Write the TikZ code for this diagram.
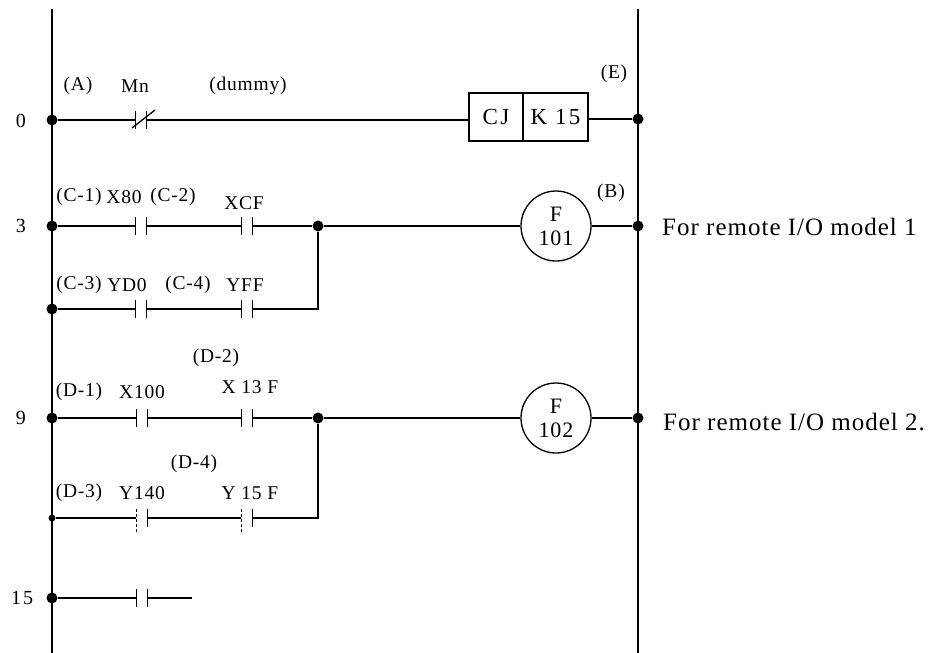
\documentclass[tikz,border=0pt]{standalone}
\usepackage{fontspec}
\setmainfont{Liberation Serif}
\usetikzlibrary{calc}
\tikzset{
  wire/.style={line width=1.3pt},
  rail/.style={line width=1.3pt},
  dot/.style={circle,fill,inner sep=0pt,minimum size=11pt},
  sdot/.style={circle,fill,inner sep=0pt,minimum size=7pt},
  contact/.style={rectangle,inner sep=0pt,minimum width=11pt,minimum height=17pt},
  lbl/.style={inner sep=0pt,font=\fontsize{19.5}{21}\selectfont\addfontfeature{LetterSpace=4}},
  num/.style={inner sep=0pt,font=\fontsize{20}{22}\selectfont\addfontfeature{LetterSpace=10}},
  side/.style={inner sep=0pt,anchor=west,font=\fontsize{25}{27}\selectfont\addfontfeature{LetterSpace=4}},
  coil/.style={circle,draw,line width=1.3pt,inner sep=0pt,minimum size=70pt,align=center,font=\fontsize{22}{24}\selectfont\addfontfeature{LetterSpace=4}},
  cell/.style={rectangle,draw,line width=1.3pt,inner sep=0pt,minimum height=48pt,font=\fontsize{23}{25}\selectfont\addfontfeature{LetterSpace=10}}
}
\newcommand{\nobars}[1]{\draw[wire] (#1.north west) -- (#1.south west) (#1.north east) -- (#1.south east);}
\newcommand{\dotbars}[1]{\draw[wire,dash pattern=on 3pt off 2pt] (#1.north west) -- ($(#1.south west)+(0,6)$); \draw[wire] (#1.north east) -- (#1.south east);}
\begin{document}
\begin{tikzpicture}[x=1pt,y=-1pt]
\useasboundingbox (0,0) rectangle (935,653);
% rails
\coordinate (lt) at (52,9); \coordinate (lb) at (52,653);
\coordinate (rt) at (638,9); \coordinate (rb) at (638,653);
\draw[rail] (lt) -- (lb);
\draw[rail] (rt) -- (rb);
% row numbers
\node[num] (n0) at (21,121) {0};
\node[num] (n3) at (21,226) {3};
\node[num] (n9) at (21,418) {9};
\node[num] (n15) at (22,598) {15};
% ---------- row 0
\node[dot] (d0) at (52,120) {};
\node[contact] (mn) at (141,120) {};
\node[cell,minimum width=54pt] (cj) at (496,117) {CJ};
\node[cell,minimum width=65pt] (k15) at (555.5,117) {K 15};
\node[dot] (r0) at (638,119) {};
\draw[wire] (d0) -- (mn) -- (cj.west |- mn);
\draw[wire] (k15.east |- r0) -- (r0);
\nobars{mn}
\draw[wire] ($(mn)+(-9,8)$) -- ($(mn)+(14,-10)$);
\node[lbl] (la) at (78,86) {(A)};
\node[lbl] (lmn) at (135,86) {Mn};
\node[lbl] (ldm) at (248,86) {(dummy)};
\node[lbl] (le) at (614,74) {(E)};
% ---------- row 3
\node[dot] (d3) at (52,226) {};
\node[contact] (c1) at (141,226) {};
\node[contact] (c2) at (247,226) {};
\node[dot] (j3) at (318,226) {};
\node[coil] (f101) at (556,226) {F\\101};
\node[dot] (r3) at (638,226) {};
\draw[wire] (d3) -- (c1) -- (c2) -- (j3) -- (f101) -- (r3);
\nobars{c1} \nobars{c2}
\node[dot] (d3b) at (52,309) {};
\node[contact] (c3) at (141,309) {};
\node[contact] (c4) at (247,309) {};
\coordinate (k3) at (318,309);
\draw[wire] (d3b) -- (c3) -- (c4) -- (k3) -- (j3);
\nobars{c3} \nobars{c4}
\node[lbl] (lc1) at (79,197) {(C-1)};
\node[lbl] (lx80) at (124,197) {X80};
\node[lbl] (lc2) at (173,197) {(C-2)};
\node[lbl] (lxcf) at (244,203) {XCF};
\node[lbl] (lb) at (611,193) {(B)};
\node[lbl] (lc3) at (79,285) {(C-3)};
\node[lbl] (lyd0) at (127,285) {YD0};
\node[lbl] (lc4) at (188,285) {(C-4)};
\node[lbl] (lyff) at (245,285) {YFF};
\node[side] (t1) at (662,227) {For remote I/O model 1};
% ---------- row 9
\node[dot] (d9) at (52,418) {};
\node[contact] (c5) at (142,418) {};
\node[contact] (c6) at (247,418) {};
\node[dot] (j9) at (318,418) {};
\node[coil] (f102) at (556,418) {F\\102};
\node[dot] (r9) at (638,418) {};
\draw[wire] (d9) -- (c5) -- (c6) -- (j9) -- (f102) -- (r9);
\nobars{c5} \nobars{c6}
\node[sdot] (d9b) at (52,518) {};
\node[contact] (c7) at (142,518) {};
\node[contact] (c8) at (247,518) {};
\coordinate (k9) at (318,518);
\draw[wire] (d9b) -- (c7) -- (c8) -- (k9) -- (j9);
\dotbars{c7} \dotbars{c8}
\node[lbl] (ld2) at (216,358) {(D-2)};
\node[lbl] (ld1) at (79,392) {(D-1)};
\node[lbl] (lx100) at (142,392) {X100};
\node[lbl] (lx13) at (250,387) {X 13 F};
\node[lbl] (ld4) at (194,464) {(D-4)};
\node[lbl] (ld3) at (79,493) {(D-3)};
\node[lbl] (ly140) at (142,493) {Y140};
\node[lbl] (ly15) at (250,493) {Y 15 F};
\node[side] (t2) at (663,422) {For remote I/O model 2.};
% ---------- row 15
\node[dot] (d15) at (52,598) {};
\node[contact] (c9) at (142,598) {};
\coordinate (e15) at (192,598);
\draw[wire] (d15) -- (c9) -- (e15);
\nobars{c9}
\end{tikzpicture}
\end{document}
